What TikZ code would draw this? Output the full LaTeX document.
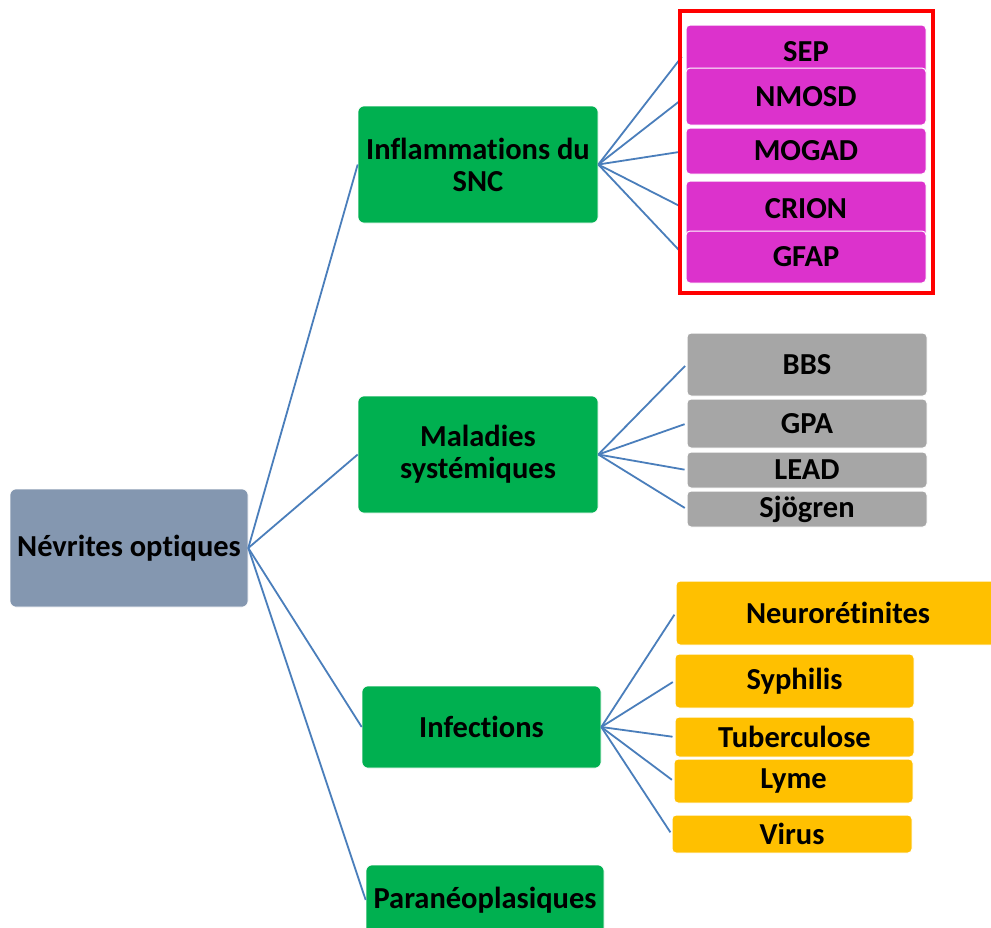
\documentclass[tikz,border=0pt]{standalone}
\usepackage{fontspec}
\setmainfont{Carlito}[Ligatures=NoCommon]
\definecolor{rootc}{HTML}{8497B0}
\definecolor{greenc}{HTML}{00B050}
\definecolor{magc}{HTML}{DC32CC}
\definecolor{grayc}{HTML}{A6A6A6}
\definecolor{orangec}{HTML}{FFC000}
\definecolor{linkc}{HTML}{4A7EBB}
\begin{document}
\begin{tikzpicture}[x=1pt,y=-1pt,
  box/.style={rounded corners=6pt, inner sep=0pt, align=center, text=black,
    font=\bfseries\fontsize{30.5}{32}\selectfont},
  rootbox/.style={box, fill=rootc, draw=white, line width=0.6pt},
  greenbox/.style={box, fill=greenc, draw=white, line width=0.6pt},
  leaf/.style={box, rounded corners=4pt, draw=white, line width=1pt},
  magbox/.style={leaf, fill=magc},
  graybox/.style={leaf, fill=grayc},
  orbox/.style={leaf, fill=orangec},
  link/.style={draw=linkc, line width=1.8pt}]
\clip (0,0) rectangle (991,927);
\fill[white] (0,0) rectangle (991,927);

% main nodes
\node[rootbox, minimum width=238pt, minimum height=118pt] (root) at (129,548) {Névrites optiques};
\node[greenbox, minimum width=240pt, minimum height=117pt] (infl) at (478,164.5) {Inflammations du\\SNC};
\node[greenbox, minimum width=240pt, minimum height=117pt] (mal) at (478,454.5) {Maladies\\systémiques};
\node[greenbox, minimum width=239pt, minimum height=82pt] (inf) at (481.5,727) {Infections};
\node[greenbox, minimum width=238pt, minimum height=70pt] (para) at (485,900) {Paranéoplasiques};

% CNS inflammation leaves
\node[magbox, minimum width=240pt, minimum height=54pt] (sep) at (806,52) {SEP};
\node[magbox, minimum width=240pt, minimum height=57pt] (nmosd) at (806,96.5) {NMOSD};
\node[magbox, minimum width=240pt, minimum height=46pt] (mogad) at (806,151) {MOGAD};
\node[magbox, minimum width=240pt, minimum height=56pt] (crion) at (806,209) {CRION};
\node[magbox, minimum width=240pt, minimum height=52pt] (gfap) at (806,257) {GFAP};

% systemic leaves
\node[graybox, minimum width=240pt, minimum height=63pt] (bbs) at (807,364.5) {BBS};
\node[graybox, minimum width=240pt, minimum height=49pt] (gpa) at (807,423.5) {GPA};
\node[graybox, minimum width=240pt, minimum height=36pt] (lead) at (807,470) {LEAD};
\node[graybox, minimum width=240pt, minimum height=36pt] (sjo) at (807,509) {Sjögren};

% infection leaves
\node[orbox, minimum width=324pt, minimum height=64pt] (neur) at (838,613) {Neurorétinites};
\node[orbox, minimum width=239pt, minimum height=54pt] (syph) at (794.5,681) {Syphilis};
\node[orbox, minimum width=239pt, minimum height=40pt] (tub) at (794.5,737) {Tuberculose};
\node[orbox, minimum width=239pt, minimum height=44pt] (lyme) at (793.5,781) {Lyme};
\node[orbox, minimum width=240pt, minimum height=38pt] (virus) at (792,834) {Virus};

% connectors
\draw[link] (root.east) -- (infl.west);
\draw[link] (root.east) -- (mal.west);
\draw[link] (root.east) -- (inf.west);
\draw[link] (root.east) -- (para.west);
\foreach \n in {sep,nmosd,mogad,crion,gfap}
  \draw[link, shorten >=6pt] (infl.east) -- (\n.west);
\foreach \n in {bbs,gpa,lead,sjo}
  \draw[link, shorten >=2pt] (mal.east) -- (\n.west);
\foreach \n in {neur,syph,tub,lyme,virus}
  \draw[link, shorten >=2pt] (inf.east) -- (\n.west);

% red frame
\node[draw=red, line width=4pt, minimum width=253pt, minimum height=282pt, inner sep=0pt] (frame) at (806.5,152) {};
\end{tikzpicture}
\end{document}
